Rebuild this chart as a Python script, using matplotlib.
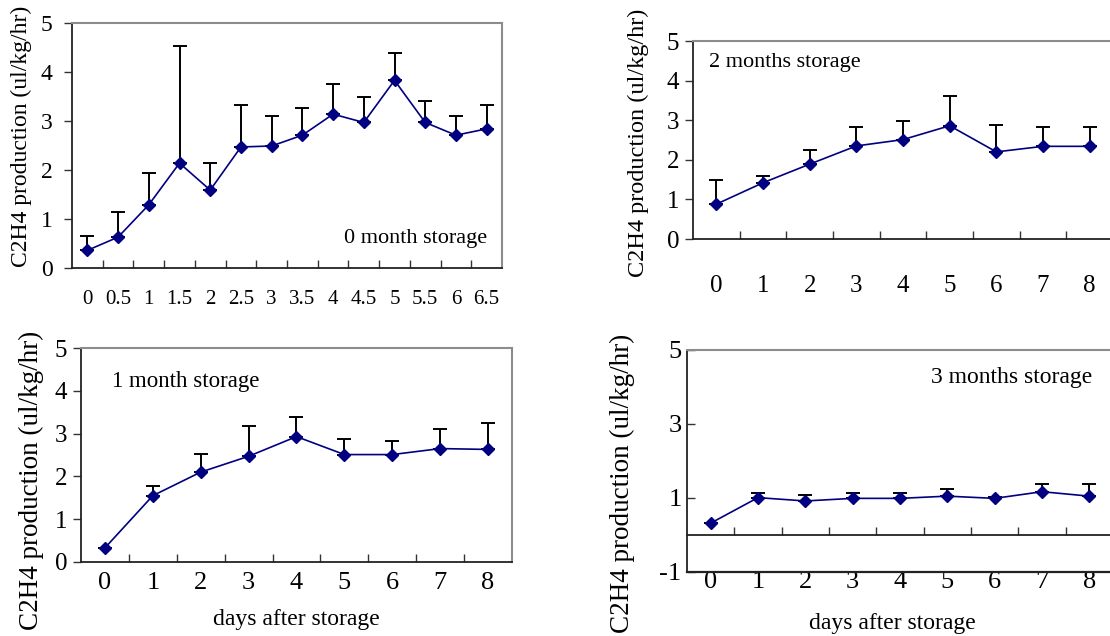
import numpy as np
import matplotlib
matplotlib.use('Agg')
import matplotlib.pyplot as plt
from matplotlib.ticker import FixedLocator

plt.rcParams['font.family'] = ['Liberation Serif', 'DejaVu Serif']

# 0 month storage
days_0 = ['0', '0.5', '1', '1.5', '2', '2.5', '3', '3.5', '4', '4.5', '5', '5.5', '6', '6.5']
mean_0 = [0.36, 0.63, 1.29, 2.14, 1.59, 2.47, 2.49, 2.71, 3.14, 2.97, 3.83, 2.97, 2.71, 2.84]
sd_0 = [0.29, 0.51, 0.64, 2.39, 0.56, 0.86, 0.62, 0.56, 0.62, 0.53, 0.56, 0.44, 0.40, 0.49]

# 1, 2 and 3 months storage
days = ['0', '1', '2', '3', '4', '5', '6', '7', '8']
mean_1 = [0.33, 1.55, 2.10, 2.47, 2.93, 2.51, 2.51, 2.65, 2.63]
sd_1 = [0.0, 0.23, 0.42, 0.70, 0.46, 0.37, 0.32, 0.45, 0.61]
mean_2 = [0.88, 1.42, 1.89, 2.35, 2.51, 2.86, 2.20, 2.34, 2.34]
sd_2 = [0.60, 0.17, 0.35, 0.47, 0.47, 0.74, 0.67, 0.48, 0.48]
mean_3 = [0.32, 1.01, 0.92, 0.99, 0.99, 1.05, 0.99, 1.17, 1.05]
sd_3 = [0.0, 0.12, 0.15, 0.14, 0.14, 0.20, 0.03, 0.20, 0.32]

ylab = 'C2H4 production (ul/kg/hr)'
xlab = 'days after storage'

W, H = 1110, 636
NAVY = '#000080'


def box(l, t, r, b):
    return [l / W, 1 - b / H, (r - l) / W, (b - t) / H]


def px(x, y):
    return x / W, 1 - y / H


def panel(fig, rect, labels, mean, sd, ylim, yticks, xsize, ysize, xpad, ydir='out', cross0=False):
    ax = fig.add_axes(rect)
    if cross0:
        # x axis line crosses at y = 0, plot border stays at the bottom
        ax.spines['bottom'].set_position(('data', 0))
    x = np.arange(len(labels))
    ax.errorbar(x, mean, yerr=[np.zeros(len(sd)), sd], fmt='none', ecolor='black',
                elinewidth=1.4, capsize=5, capthick=1.4, zorder=2)
    ax.plot(x, mean, color=NAVY, lw=1.2, marker='D', ms=6.5, zorder=3)
    ax.set_xlim(-0.5, len(labels) - 0.5)
    ax.set_ylim(*ylim)
    ax.set_xticks(x)
    ax.set_xticklabels(labels, fontsize=xsize)
    ax.xaxis.set_minor_locator(FixedLocator(np.arange(0.5, len(labels) - 1, 1)))
    ax.tick_params(axis='x', which='major', length=0, pad=xpad)
    ax.tick_params(axis='x', which='minor', direction='in', length=6, width=1, color='#333333')
    ax.set_yticks(yticks)
    ax.set_yticklabels([str(v) for v in yticks], fontsize=ysize)
    ax.tick_params(axis='y', direction=ydir, length=6, width=1, color='#333333', pad=4)
    for s in ['top', 'right']:
        ax.spines[s].set_color('#8c8c8c')
        ax.spines[s].set_linewidth(1.5)
    for s in ['left', 'bottom']:
        ax.spines[s].set_color('#222222')
        ax.spines[s].set_linewidth(1.3)
    if cross0:
        ax.axhline(ylim[0], color='#222222', lw=1.6, clip_on=False, zorder=4)
    return ax


fig = plt.figure(figsize=(11.1, 6.36), dpi=100)

# top left: 0 month
ax0 = panel(fig, box(72, 23, 502, 268), days_0, mean_0, sd_0, (0, 5), [0, 1, 2, 3, 4, 5],
            15, 17, 16)
ax0.tick_params(axis='y', pad=8)
fig.text(*px(487, 238), '0 month storage', fontsize=16, ha='right', va='center')
fig.text(*px(21, 136), ylab, fontsize=17, rotation=90, ha='center', va='center')

# top right: 2 months
ax2 = panel(fig, box(693, 41, 1113, 239), days, mean_2, sd_2, (0, 5), [0, 1, 2, 3, 4, 5],
            18, 18, 26)
fig.text(*px(709, 63), '2 months storage', fontsize=16, ha='left', va='center')
fig.text(*px(638, 143), ylab, fontsize=17.5, rotation=90, ha='center', va='center')

# bottom left: 1 month
ax1 = panel(fig, box(81, 348, 512, 562), days, mean_1, sd_1, (0, 5), [0, 1, 2, 3, 4, 5],
            19, 18, 7)
fig.text(*px(112, 382), '1 month storage', fontsize=16.5, ha='left', va='center')
fig.text(*px(31, 480), ylab, fontsize=19.5, rotation=90, ha='center', va='center')
fig.text(*px(296, 620), xlab, fontsize=17, ha='center', va='center')

# bottom right: 3 months
ax3 = panel(fig, box(687, 350, 1113, 572), days, mean_3, sd_3, (-1, 5), [-1, 1, 3, 5],
            19, 19, 26, ydir='in', cross0=True)
fig.text(*px(1092, 377), '3 months storage', fontsize=17, ha='right', va='center')
fig.text(*px(622, 483), ylab, fontsize=19.5, rotation=90, ha='center', va='center')
fig.text(*px(892, 623), xlab, fontsize=17, ha='center', va='center')

fig.savefig('out.png', dpi=100)
